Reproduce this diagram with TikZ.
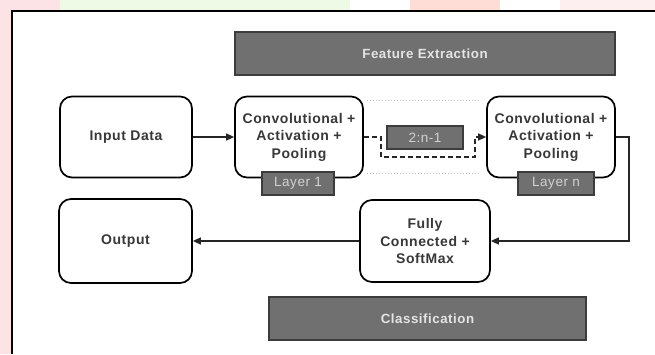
\documentclass[tikz,border=0pt]{standalone}
\usepackage{fontspec}
\setmainfont{Liberation Sans}
\newfontfamily\lsfont[LetterSpace=4]{Liberation Sans}
\usetikzlibrary{arrows.meta}
\definecolor{barfill}{HTML}{707070}
\definecolor{barline}{HTML}{3C3C3C}
\definecolor{boxtext}{HTML}{383838}
\definecolor{bartext}{HTML}{E4E4E4}
\definecolor{tabtext}{HTML}{D2D2D2}
\definecolor{dotgray}{HTML}{C4C4C4}
\definecolor{pinkbg}{HTML}{FCE3E6}
\definecolor{greenbg}{HTML}{EEF9E6}
\definecolor{salmonbg}{HTML}{FDDDD6}
\tikzset{
  procbox/.style={draw=black, line width=1.7pt, rounded corners=12pt, fill=white,
    inner sep=0pt, align=center, text=boxtext,
    font=\lsfont\bfseries\fontsize{14}{17.5}\selectfont},
  graybar/.style={draw=barline, line width=1.4pt, fill=barfill, inner sep=0pt,
    text=bartext, font=\lsfont\bfseries\fontsize{13.3}{16}\selectfont},
  tabbox/.style={draw=barline, line width=1.3pt, fill=barfill, inner sep=0pt,
    minimum height=23pt, text=tabtext, font=\lsfont\fontsize{13.5}{16}\selectfont},
  conn/.style={line width=1.4pt, draw=black!85, -{Triangle[length=8pt,width=7pt]}},
  dashconn/.style={conn, dashed, dash pattern=on 5pt off 3pt},
  faintdot/.style={draw=dotgray, line width=1pt, dotted}
}
\begin{document}
\begin{tikzpicture}[x=1pt,y=-1pt]
\useasboundingbox (0,0) rectangle (655,354);
% backdrop outside the frame
\fill[white] (0,0) rectangle (655,354);
\fill[pinkbg] (0,0) rectangle (12,354);
\fill[pinkbg] (0,0) rectangle (60,11);
\fill[greenbg] (60,0) rectangle (350,11);
\fill[salmonbg] (410,0) rectangle (500,11);
\fill[pinkbg!60] (560,0) rectangle (655,11);
% frame
\draw[line width=2.2pt] (12,354) -- (12,11) -- (655,11);

% bars
\node[graybar, minimum width=380pt, minimum height=43pt] (feat) at (425,53.5) {Feature Extraction};
\node[graybar, minimum width=317pt, minimum height=43pt] (clas) at (427.5,318.5) {Classification};

% faint dotted group lines
\coordinate (dtl) at (367,100);
\coordinate (dtr) at (481,100);
\coordinate (dbl) at (367,173);
\coordinate (dbr) at (481,173);
\draw[faintdot] (dtl) -- (dtr);
\draw[faintdot] (dbl) -- (dbr);

% process boxes
\node[procbox, minimum width=132pt, minimum height=81pt] (input) at (126,137) {Input Data};
\node[procbox, minimum width=128pt, minimum height=81pt] (conv1) at (299,137) {Convolutional +\\Activation +\\Pooling};
\node[procbox, minimum width=128pt, minimum height=81pt] (convn) at (551,137) {Convolutional +\\Activation +\\Pooling};
\node[procbox, minimum width=133pt, minimum height=84pt] (output) at (125.5,241) {Output};
\node[procbox, minimum width=130pt, minimum height=82pt] (fc) at (425,241) {Fully\\Connected +\\SoftMax};

% tabs
\node[tabbox, minimum width=72pt] (lay1) at (298,183.5) {Layer 1};
\node[tabbox, minimum width=76pt] (layn) at (556,183.5) {Layer n};
\node[tabbox, minimum width=76pt] (mid) at (425,137.5) {2:n-1};

% connectors
\draw[conn] (input.east) -- (conv1.west);
\draw[dashconn] (conv1.east) -- ++(17,0) -- ++(0,20) -- ++(94,0) -- ++(0,-20) -- (convn.west);
\draw[conn] (convn.east) -- ++(13,0) |- (fc.east);
\draw[conn] (fc.west) -- (output.east);
\end{tikzpicture}
\end{document}
